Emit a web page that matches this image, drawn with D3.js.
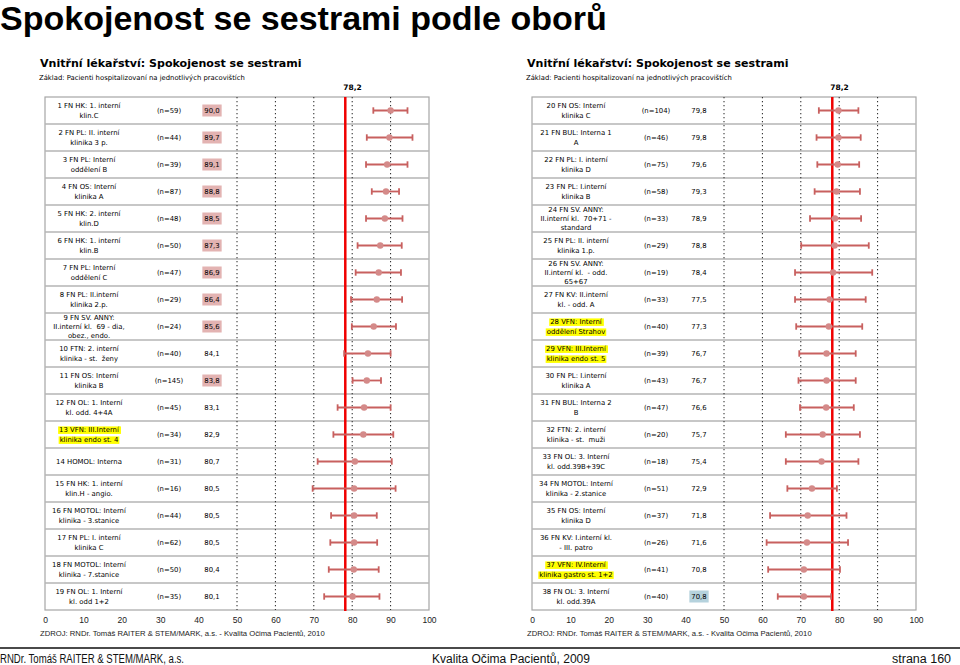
<!DOCTYPE html>
<html><head><meta charset="utf-8">
<script src="https://cdn.jsdelivr.net/npm/d3@7"></script>
<style>body{margin:0;background:#fff}</style>
</head><body>
<svg id="c" width="960" height="665" xmlns="http://www.w3.org/2000/svg"></svg>
<script>
// ---------- DATA ----------
const categories = [
  "1 FN HK: 1. interní|klin.C",
  "2 FN PL: II. interní|klinika 3 p.",
  "3 FN PL: Interní|oddělení B",
  "4 FN OS: Interní|klinika A",
  "5 FN HK: 2. interní|klin.D",
  "6 FN HK: 1. interní|klin.B",
  "7 FN PL: Interní|oddělení C",
  "8 FN PL: II.interní|klinika 2.p.",
  "9 FN SV. ANNY:|II.interní kl.  69 - dia,|obez., endo.",
  "10 FTN: 2. interní|klinika - st.  ženy",
  "11 FN OS: Interní|klinika B",
  "12 FN OL: 1. Interní|kl. odd. 4+4A",
  "13 VFN: III.Interní|klinika endo st. 4",
  "14 HOMOL: Interna",
  "15 FN HK: 1. interní|klin.H - angio.",
  "16 FN MOTOL: Interní|klinika - 3.stanice",
  "17 FN PL: I. interní|klinika C",
  "18 FN MOTOL: Interní|klinika - 7.stanice",
  "19 FN OL: 1. Interní|kl. odd 1+2",
  "20 FN OS: Interní|klinika C",
  "21 FN BUL: Interna 1|A",
  "22 FN PL: I. interní|klinika D",
  "23 FN PL: I.interní|klinika B",
  "24 FN SV. ANNY:|II.interní kl.  70+71 -|standard",
  "25 FN PL: II. interní|klinika 1.p.",
  "26 FN SV. ANNY:|II.interní kl.  - odd.|65+67",
  "27 FN KV: II.interní|kl. - odd. A",
  "28 VFN: Interní|oddělení Strahov",
  "29 VFN: III.Interní|klinika endo st. 5",
  "30 FN PL: I.interní|klinika A",
  "31 FN BUL: Interna 2|B",
  "32 FTN: 2. interní|klinika - st.  muži",
  "33 FN OL: 3. Interní|kl. odd.39B+39C",
  "34 FN MOTOL: Interní|klinika - 2.stanice",
  "35 FN OS: Interní|klinika D",
  "36 FN KV: I.interní kl.|- III. patro",
  "37 VFN: IV.Interní|klinika gastro st. 1+2",
  "38 FN OL: 3. Interní|kl. odd.39A"
];
const counts = [59,44,39,87,48,50,47,29,24,40,145,45,34,31,16,44,62,50,35,
                104,46,75,58,33,29,19,33,40,39,43,47,20,18,51,37,26,41,40];
const means = [90.0,89.7,89.1,88.8,88.5,87.3,86.9,86.4,85.6,84.1,83.8,83.1,82.9,80.7,80.5,80.5,80.5,80.4,80.1,
               79.8,79.8,79.6,79.3,78.9,78.8,78.4,77.5,77.3,76.7,76.7,76.6,75.7,75.4,72.9,71.8,71.6,70.8,70.8];
const lows  = [85.5,83.8,83.6,85.1,83.6,81.4,80.9,79.7,79.9,77.9,80.1,76.2,75.1,71.0,69.7,74.5,74.3,73.9,72.7,
               74.7,74.1,74.3,73.6,72.4,70.1,68.5,68.5,68.8,69.6,69.4,69.8,66.1,66.1,66.5,62.0,61.1,61.5,64.0];
const highs = [94.4,95.7,94.4,92.2,93.1,92.9,92.7,93.0,91.4,90.0,87.5,90.0,90.7,90.3,91.3,86.4,86.5,86.9,87.1,
               85.0,85.6,85.2,85.4,85.7,87.7,88.6,86.9,86.0,84.3,84.3,83.8,85.4,85.0,79.4,81.9,82.3,80.2,77.9];
const overallMean = 78.2;
const xTicks = [0,10,20,30,40,50,60,70,80,90,100];
const gridValues = [50,60,70,80,90];
const yellowRows = [13,28,29,37];
const pinkRows = [1,2,3,4,5,6,7,8,9,11];
const blueRows = [38];
const panelRows = [[0,19],[19,38]];

const mainTitle = "Spokojenost se sestrami podle oborů";
const panelTitle = "Vnitřní lékařství: Spokojenost se sestrami";
const panelSub = "Základ: Pacienti hospitalizovaní na jednotlivých pracovištích";
const sourceText = "ZDROJ: RNDr. Tomáš RAITER & STEM/MARK, a.s. -  Kvalita Očima Pacientů, 2010";
const footer = ["RNDr. Tomáš RAITER & STEM/MARK, a.s.", "Kvalita Očima Pacientů, 2009", "strana 160"];

// ---------- DRAW ----------
const svg = d3.select("#c");
const fmt = v => d3.format(".1f")(v).replace(".", ",");
const VERD = "Verdana, 'DejaVu Sans', sans-serif";
const NARROW = "'Liberation Sans Narrow', 'Arial Narrow', 'Liberation Sans', sans-serif";

function fitWidth(sel, target) {
  const w = sel.node().getComputedTextLength();
  const fs = parseFloat(sel.attr("font-size"));
  if (w > 0) sel.attr("font-size", fs * target / w);
  return sel;
}
function squeeze(sel, target) {
  const w = sel.node().getComputedTextLength();
  if (w > target) sel.attr("textLength", target).attr("lengthAdjust", "spacingAndGlyphs");
  return sel;
}
function fitSize(text, family, weight, target) {
  const t = svg.append("text").attr("font-family", family).attr("font-weight", weight)
    .attr("font-size", 10).text(text);
  const w = t.node().getComputedTextLength();
  t.remove();
  return 10 * target / w;
}

const t0 = svg.append("text").attr("x", 0).attr("y", 30)
  .attr("font-family", "'Liberation Sans', Arial, sans-serif").attr("font-weight", "bold")
  .attr("font-size", 32).attr("fill", "#000").text(mainTitle);
fitWidth(t0, 607);

const labelFs = fitSize("1 FN HK: 1. interní", VERD, "normal", 63);

const panelX = [45, 532];
const panelW = 384;
const topY = 97, bottomY = 610;

panelRows.forEach((rng, p) => {
  const x0 = panelX[p];
  const x = d3.scaleLinear().domain([0, 100]).range([x0, x0 + panelW]);
  const ids = d3.range(rng[0], rng[1]);
  const y = d3.scaleBand().domain(ids).range([topY, bottomY]).padding(0);
  const g = svg.append("g");

  // titles
  const st = g.append("text").attr("x", x0 - 5).attr("y", 67)
    .attr("font-family", VERD).attr("font-weight", "bold").attr("font-size", 13)
    .attr("fill", "#000").text(panelTitle);
  fitWidth(st, 262);
  const sb = g.append("text").attr("x", x0 - 6).attr("y", 80)
    .attr("font-family", VERD).attr("font-size", 7).attr("fill", "#000").text(panelSub);
  fitWidth(sb, 206);
  g.append("text").attr("x", x(overallMean) - 2).attr("y", 90)
    .attr("font-family", VERD).attr("font-weight", "bold").attr("font-size", 7.5)
    .attr("fill", "#000").text(fmt(overallMean));

  // box & row separators
  g.append("rect").attr("x", x0).attr("y", topY).attr("width", panelW).attr("height", bottomY - topY)
    .attr("fill", "none").attr("stroke", "#a6a6a6").attr("stroke-width", 1.2);
  g.selectAll(".sep").data(ids.slice(1)).join("line")
    .attr("x1", x0).attr("x2", x0 + panelW)
    .attr("y1", d => y(d)).attr("y2", d => y(d))
    .attr("stroke", "#b4b4b4").attr("stroke-width", 1.5);

  // grid
  g.selectAll(".grid").data(gridValues).join("line")
    .attr("x1", d => x(d)).attr("x2", d => x(d)).attr("y1", topY).attr("y2", bottomY)
    .attr("stroke", "#222").attr("stroke-width", 1).attr("stroke-dasharray", "1.3,2.7");

  // labels
  ids.forEach(i => {
    const cy = y(i) + y.bandwidth() / 2;
    const lines = categories[i].split("|");
    const sp = lines.length === 3 ? 9.4 : 10;
    const lx = x0 + 44;
    lines.forEach((ln, k) => {
      const ly = cy + (k - (lines.length - 1) / 2) * sp;
      const t = g.append("text").attr("x", lx).attr("y", ly).attr("dy", "0.35em")
        .attr("text-anchor", "middle").attr("font-family", VERD).attr("font-size", labelFs)
        .attr("fill", "#000").style("white-space", "pre").text(ln);
      if (yellowRows.includes(i + 1)) {
        const bb = t.node().getBBox();
        g.insert("rect", () => t.node()).attr("x", bb.x - 1).attr("y", bb.y + 0.5)
          .attr("width", bb.width + 2).attr("height", bb.height - 0.5).attr("fill", "#ffff00");
      }
    });
    g.append("text").attr("x", x0 + 124).attr("y", cy).attr("dy", "0.35em")
      .attr("text-anchor", "middle").attr("font-family", VERD).attr("font-size", labelFs)
      .attr("fill", "#000").text("(n=" + counts[i] + ")");
    const vt = g.append("text").attr("x", x0 + 167).attr("y", cy).attr("dy", "0.35em")
      .attr("text-anchor", "middle").attr("font-family", VERD).attr("font-size", labelFs)
      .attr("fill", "#000").text(fmt(means[i]));
    const hl = pinkRows.includes(i + 1) ? "#e3b3b2" : blueRows.includes(i + 1) ? "#b5d2dd" : null;
    if (hl) {
      const bb = vt.node().getBBox();
      g.insert("rect", () => vt.node()).attr("x", bb.x - 2).attr("y", cy - 6)
        .attr("width", bb.width + 4).attr("height", 12).attr("fill", hl);
    }
  });

  // red mean line
  g.append("line").attr("x1", x(overallMean)).attr("x2", x(overallMean))
    .attr("y1", topY).attr("y2", bottomY + 1).attr("stroke", "#f00000").attr("stroke-width", 2.5);

  // error bars
  const eb = g.selectAll(".eb").data(ids).join("g");
  const col = "#c8605f";
  eb.append("line").attr("x1", i => x(lows[i])).attr("x2", i => x(highs[i]))
    .attr("y1", i => y(i) + y.bandwidth() / 2).attr("y2", i => y(i) + y.bandwidth() / 2)
    .attr("stroke", col).attr("stroke-width", 1.8);
  [lows, highs].forEach(arr => {
    eb.append("line").attr("x1", i => x(arr[i])).attr("x2", i => x(arr[i]))
      .attr("y1", i => y(i) + y.bandwidth() / 2 - 3.2).attr("y2", i => y(i) + y.bandwidth() / 2 + 3.2)
      .attr("stroke", col).attr("stroke-width", 1.8);
  });
  eb.append("circle").attr("cx", i => x(means[i])).attr("cy", i => y(i) + y.bandwidth() / 2)
    .attr("r", 3.2).attr("fill", "#d48a89");

  // axis
  const ax = g.append("g").attr("transform", `translate(0,${bottomY + 4})`)
    .call(d3.axisBottom(x).tickValues(xTicks).tickSize(0).tickPadding(3));
  ax.select(".domain").remove();
  ax.selectAll("text").attr("font-family", NARROW).attr("font-size", 8.5).attr("fill", "#222");

  const src = g.append("text").attr("x", x0 - 5).attr("y", 636)
    .attr("font-family", NARROW).attr("font-size", 8).attr("fill", "#222").text(sourceText);
  fitWidth(src, 285);
});

// footer
svg.append("line").attr("x1", 0).attr("x2", 960).attr("y1", 648).attr("y2", 648)
  .attr("stroke", "#4a4a4a").attr("stroke-width", 2);
const f1 = svg.append("text").attr("x", 0).attr("y", 663).attr("font-family", NARROW)
  .attr("font-size", 12.5).attr("fill", "#111").text(footer[0]);
squeeze(f1, 184);
const f2 = svg.append("text").attr("x", 432).attr("y", 663).attr("font-family", NARROW)
  .attr("font-size", 12.5).attr("fill", "#111").text(footer[1]);
squeeze(f2, 158);
const f3 = svg.append("text").attr("x", 892).attr("y", 663)
  .attr("font-family", NARROW).attr("font-size", 12.5).attr("fill", "#111").text(footer[2]);
squeeze(f3, 67);
</script>
</body></html>
